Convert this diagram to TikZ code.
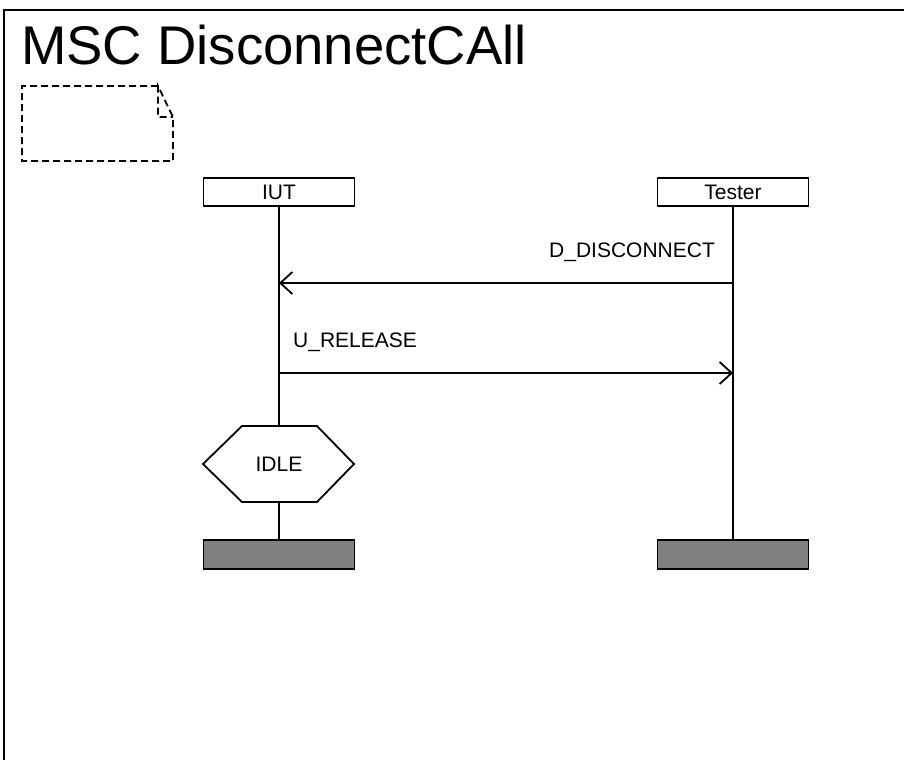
\documentclass[tikz,border=0pt]{standalone}
\usepackage{fontspec}
\setmainfont{Liberation Sans}
\usetikzlibrary{arrows.meta}
\definecolor{endgray}{HTML}{808080}
\tikzset{
  line/.style={line width=1.8pt, draw=black},
  headbox/.style={line, fill=white, minimum width=151pt, minimum height=28pt, inner sep=0pt, font=\fontsize{21}{25}\selectfont},
  endbox/.style={line, fill=endgray, minimum width=151pt, minimum height=29pt, inner sep=0pt},
  lbl/.style={font=\fontsize{21}{25}\selectfont, inner sep=0pt, anchor=base west},
  msg/.style={line, -{Straight Barb[length=12pt,width=22pt,line width=1.8pt]}},
  commentline/.style={line width=1.8pt, dash pattern=on 7pt off 4pt}
}
\begin{document}
\begin{tikzpicture}[x=1pt,y=-1pt]
\useasboundingbox (0,0) rectangle (904,760);
% frame
\draw[line width=2.2pt] (904,10) -- (4,10) -- (4,760);
% title
\node[font=\fontsize{54.5}{60}\selectfont, inner sep=0pt, anchor=base west] (title) at (21,64) {MSC DisconnectCAll};
% comment symbol
\draw[commentline] (158,86) -- (22,86) -- (22,161) -- (173,161) -- (173,117) -- (158,86) -- (158,117) -- (173,117);
% instance heads
\node[headbox] (iut) at (279,192) {IUT};
\node[headbox] (tester) at (733,192) {Tester};
% end boxes
\node[endbox] (iutend) at (279,554.5) {};
\node[endbox] (testerend) at (733,554.5) {};
% condition
\node[font=\fontsize{21}{25}\selectfont, inner sep=0pt] (idle) at (279,464) {IDLE};
\coordinate (idletop) at (279,426);
\coordinate (idlebot) at (279,502);
\draw[line] (242,426) -- (317,426) -- (354,464) -- (317,502) -- (242,502) -- (203,464) -- cycle;
% lifelines
\draw[line] (iut.south) -- (idletop);
\draw[line] (idlebot) -- (iutend.north);
\draw[line] (tester.south) -- (testerend.north);
% messages
\coordinate (m1s) at (733,283);
\coordinate (m1e) at (279,283);
\coordinate (m2s) at (279,373);
\coordinate (m2e) at (733,373);
\draw[msg] (m1s) -- (m1e);
\draw[msg] (m2s) -- (m2e);
\node[lbl] (l1) at (549,257) {D\_DISCONNECT};
\node[lbl] (l2) at (293,347) {U\_RELEASE};
\end{tikzpicture}
\end{document}
